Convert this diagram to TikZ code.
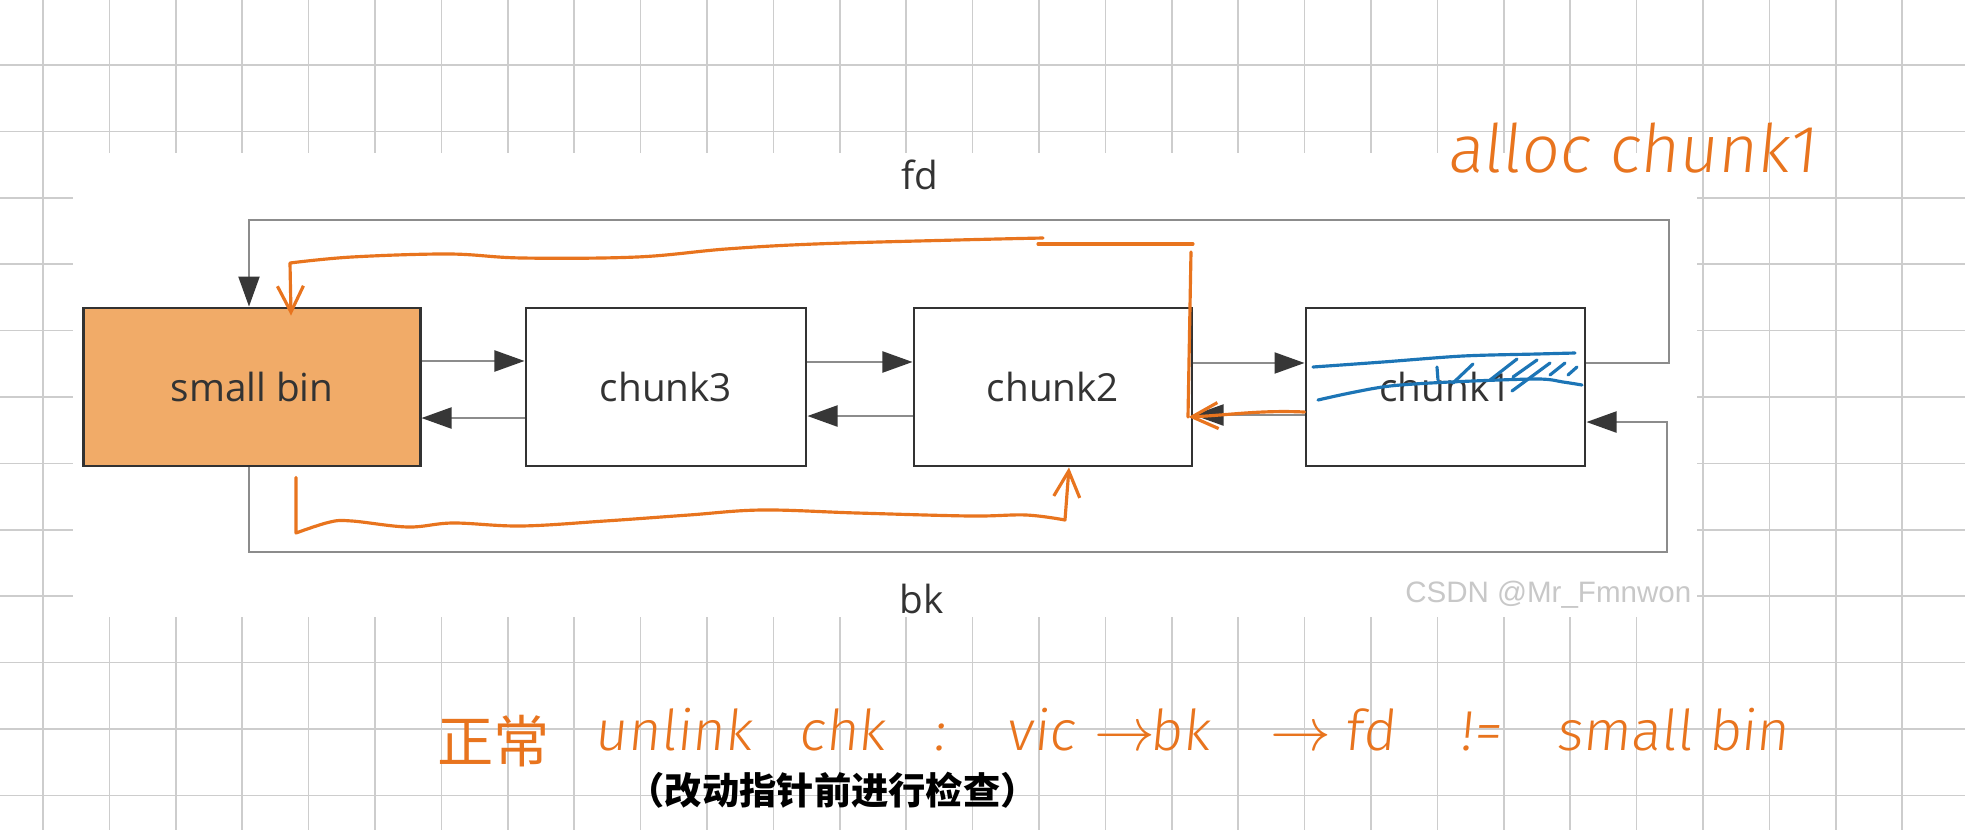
\documentclass[tikz,border=0pt]{standalone}
\usepackage{fontspec}
\setmainfont{Open Sans}
\newfontfamily\cjk{Noto Sans CJK SC}
\newfontfamily\handfont[FakeSlant=0.1]{Fira Sans Light}
\newfontfamily\markfont{Liberation Sans}
\usetikzlibrary{calc}
\usetikzlibrary{arrows.meta}

\definecolor{gridgray}{RGB}{205,205,205}
\definecolor{boxline}{RGB}{50,50,50}
\definecolor{binorange}{RGB}{241,171,104}
\definecolor{linkgray}{RGB}{140,140,140}
\definecolor{tipgray}{RGB}{55,55,55}
\definecolor{textgray}{RGB}{51,51,51}
\definecolor{handorange}{RGB}{232,116,30}
\definecolor{handblue}{RGB}{28,117,182}
\definecolor{markgray}{RGB}{200,200,200}

\begin{document}
\begin{tikzpicture}[x=0.01cm, y=-0.01cm,
    gridline/.style={draw=gridgray, line width=0.5pt},
    chunkbox/.style={draw=boxline, line width=0.8pt, fill=white, minimum width=2.79cm,
        minimum height=1.58cm, inner sep=0pt, text=textgray, font=\fontsize{11}{13}\selectfont},
    link/.style={draw=linkgray, line width=0.6pt, -{Triangle[length=3mm, width=2.1mm, color=tipgray]}},
    hand/.style={draw=handorange, line width=0.9pt, line cap=round, line join=round},
    handtip/.style={-{Straight Barb[length=2.6mm, width=2.6mm]}},
    scribble/.style={draw=handblue, line width=0.9pt, line cap=round},
    note/.style={text=handorange, inner sep=0pt, anchor=base west, font=\handfont\fontsize{16}{18}\selectfont}]
    \useasboundingbox (0,0) rectangle (1965,830);
    
    % squared paper behind the pasted diagram
    \foreach \i in {0,...,28}
        \draw[gridline] ({43+66.4*\i},0) -- ({43+66.4*\i},830);
    \foreach \j in {0,...,11}
        \draw[gridline] (0,{65+66.4*\j}) -- (1965,{65+66.4*\j});
    \fill[white] (73,153) rectangle (1697,617);
    
    \node[chunkbox, fill=binorange, minimum width=3.36cm] (sb) at (252,387) {small bin};
    \node[chunkbox, minimum width=2.8cm] (c3) at (666,387) {chunk3};
    \node[chunkbox, minimum width=2.78cm] (c2) at (1053,387) {chunk2};
    \node[chunkbox] (c1) at (1445.5,387) {chunk1};
    
    \node[text=textgray, font=\fontsize{11}{13}\selectfont, anchor=base] (fd) at (920,189) {fd};
    \node[text=textgray, font=\fontsize{11}{13}\selectfont, anchor=base] (bk) at (922,613) {bk};
    
    \coordinate (fdL) at (249,220);
    \coordinate (fdR) at (1669,220);
    \coordinate (bkL) at (249,552);
    \coordinate (bkR) at (1667,552);
    
    \draw[link] ([yshift=2.6mm]sb.east) -- ([yshift=2.6mm]c3.west);
    \draw[link] ([yshift=2.5mm]c3.east) -- ([yshift=2.5mm]c2.west);
    \draw[link] ([yshift=2.4mm]c2.east) -- ([yshift=2.4mm]c1.west);
    \draw[link] ([yshift=-3.1mm]c3.west) -- ([yshift=-3.1mm]sb.east);
    \draw[link] ([yshift=-2.9mm]c2.west) -- ([yshift=-2.9mm]c3.east);
    \draw[link] ([yshift=-2.8mm]c1.west) -- ([yshift=-2.8mm]c2.east);
    \draw[link] ([yshift=2.4mm]c1.east) -| (fdR) -- (fdL) -- (fdL |- sb.north);
    \draw[link] (bkL |- sb.south) -- (bkL) -- (bkR) |- ([yshift=-3.5mm]c1.east);
    
    % orange pen marks
    \draw[hand, handtip] ([yshift=-2.5mm]c1.west) .. controls (1260,410) and (1230,415) .. ([xshift=-0.5mm,yshift=-3mm]c2.east);
    \draw[hand] (1191,252) -- (1188,417);
    \draw[hand] (1038,244) -- (1193,244);
    \draw[hand, handtip] plot[smooth, tension=0.6] coordinates {(1043,238) (957,240) (815,244) (726,249) (637,257) (522,258) (449,254) (352,257) (290,263)}
        -- ([xshift=3.9mm,yshift=-0.9mm]sb.north);
    \draw[hand, handtip] ([xshift=4.4mm,yshift=-1mm]sb.south) -- plot[smooth, tension=0.6] coordinates {(296,533) (330,522) (352,521) (408,527) (453,523) (521,526) (605,521) (689,515) (762,510) (857,513) (970,516) (1026,515) (1065,520)}
        -- ([xshift=1.6mm]c2.south);
    
    % blue crossing-out on chunk1
    \draw[scribble] plot[smooth] coordinates {(1313,367) (1383,362) (1463,356) (1537,354) (1575,353)};
    \draw[scribble] plot[smooth] coordinates {(1318,400) (1350,393) (1390,386) (1450,382) (1537,379) (1563,382) (1582,385)};
    \draw[scribble] (1437,367) -- (1438,380);
    \draw[scribble] (1453,383) -- (1473,364);
    \draw[scribble] (1490,380) -- (1517,359);
    \draw[scribble] (1513,377) -- (1537,360);
    \draw[scribble] (1512,391) -- (1550,363);
    \draw[scribble] (1550,375) -- (1565,363);
    \draw[scribble] (1568,375) -- (1577,367);
    
    \node[note, font=\handfont\fontsize{19}{21}\selectfont] (alloc) at (1447,172) {alloc chunk1};
    
    \node[note, font=\cjk\fontsize{16}{18}\selectfont] (zc) at (437,762) {正常};
    \node[note] (w1) at (594,750) {unlink};
    \node[note] (w2) at (798,750) {chk};
    \node[note] (w3) at (933,750) {:};
    \node[note] (w4) at (1006,750) {vic};
    \node[note] (w5) at (1094,750) {$\rightarrow$};
    \node[note] (w6) at (1149,750) {bk};
    \node[note] (w7) at (1270,750) {$\rightarrow$};
    \node[note] (w8) at (1344,750) {fd};
    \node[note] (w9) at (1459,750) {!=};
    \node[note] (w10) at (1556,750) {small bin};
    \node[font=\cjk\bfseries\fontsize{10.6}{12}\selectfont, anchor=west, inner sep=0pt] (check) at (627,790) {（改动指针前进行检查）};
    
    \node[anchor=base east, text=markgray, inner sep=0pt, font=\markfont\fontsize{8.4}{10}\selectfont] (mark) at (1692,602) {CSDN @Mr\_Fmnwon};
\end{tikzpicture}
\end{document}
